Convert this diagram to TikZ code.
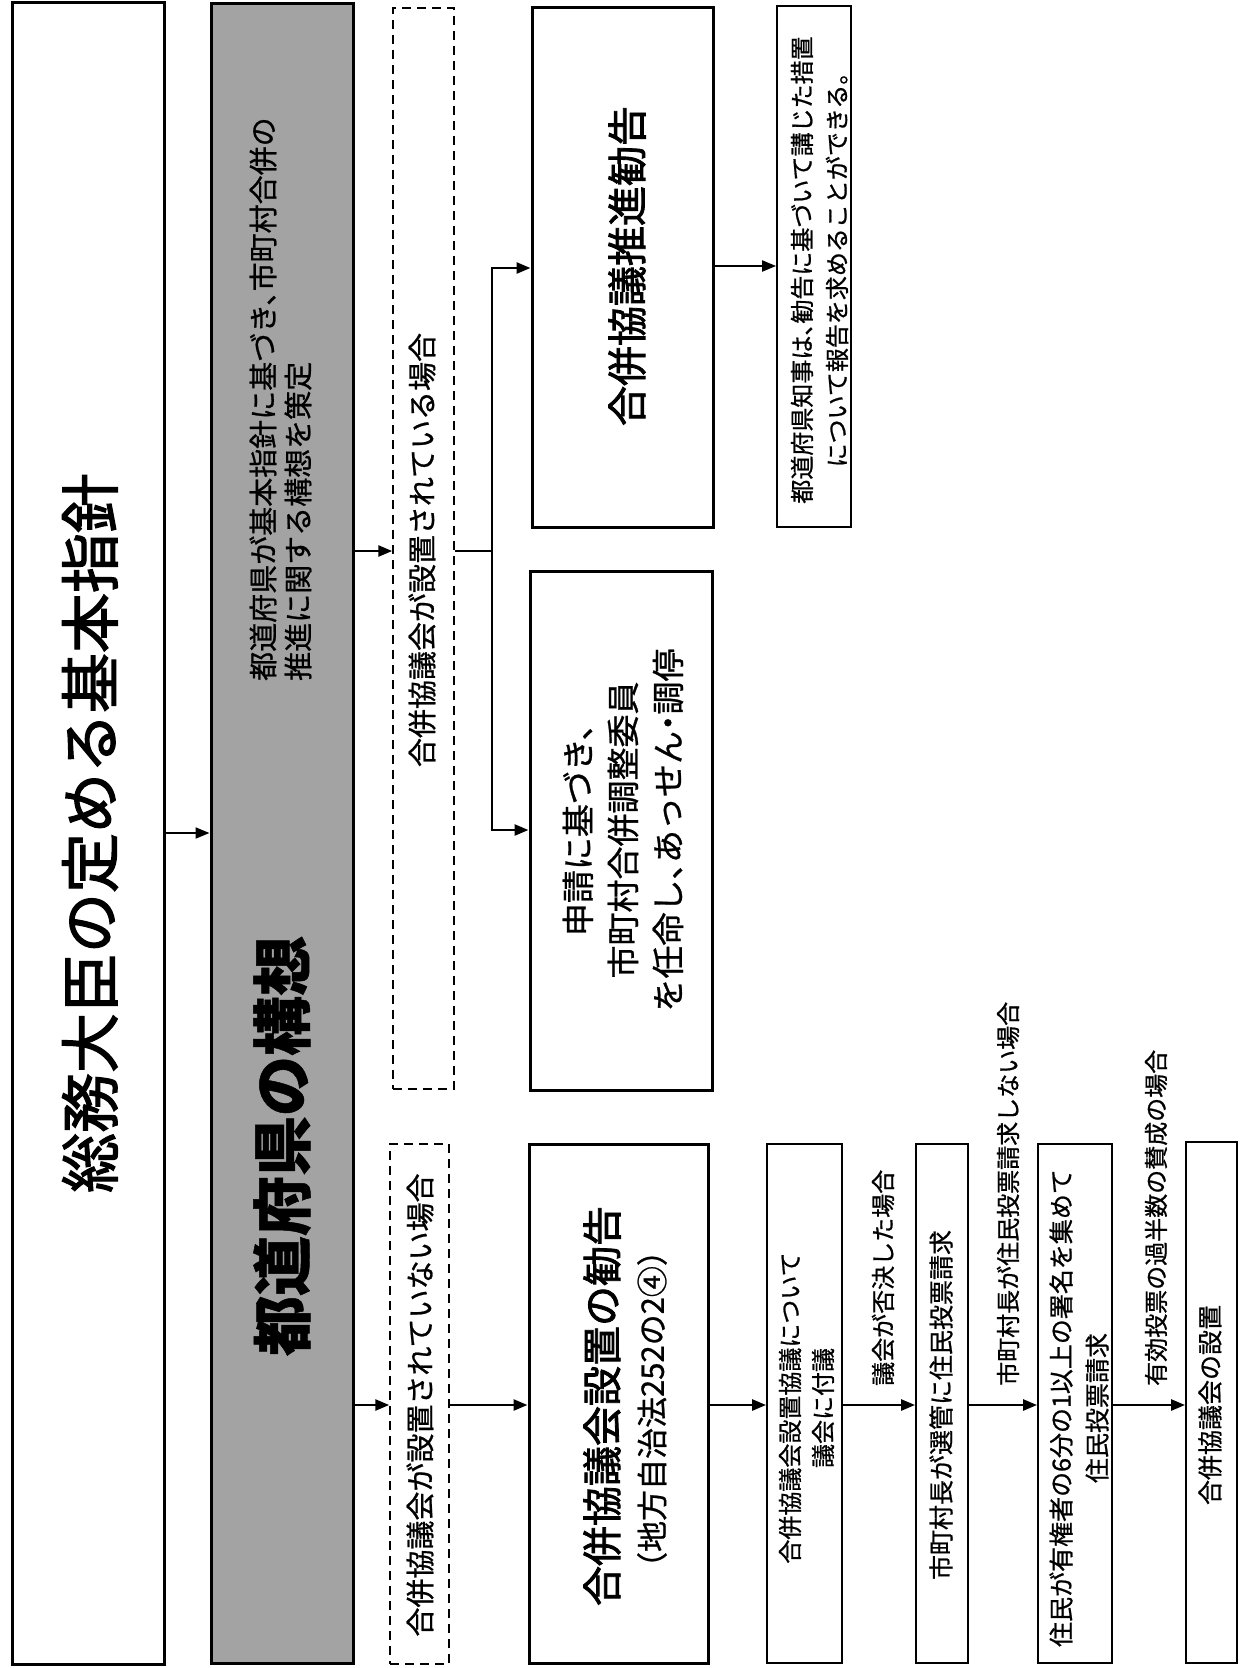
\documentclass[tikz,border=0pt]{standalone}
\usepackage{fontspec}
\setmainfont{Noto Sans CJK JP}[RawFeature=+halt, FakeBold=0.8]
\newfontfamily\titlefont{Noto Sans CJK JP}[FakeBold=2]
\newfontfamily\fullfont{Noto Sans CJK JP}[FakeBold=0.8]
\usetikzlibrary{arrows.meta,fit}
\newcommand\fs[2]{\fontsize{#1pt}{#2pt}\selectfont}
\definecolor{bgray}{gray}{0.64}
\begin{document}
\begin{tikzpicture}[x=1pt,y=-1pt,
  box/.style={draw, line width=3pt, inner sep=0pt},
  thinbox/.style={draw, line width=1.8pt, inner sep=0pt},
  dbox/.style={draw, line width=1.5pt, dash pattern=on 9pt off 6pt, inner sep=0pt},
  txt/.style={rotate=90, inner sep=0pt, align=center},
  arr/.style={line width=2.6pt, -{Triangle[length=14pt,width=11pt]}},
  conn/.style={line width=2.6pt},
]
\fill[white] (0,0) rectangle (1246,1668);
\useasboundingbox (0,0) rectangle (1246,1668);

% boxes
\node[box, fit={(12,2) (164,1664)}] (A) {};
\node[box, fill=bgray, fit={(211,3) (353,1663)}] (B) {};
\node[dbox, fit={(393,8) (454,1089)}] (C) {};
\node[dbox, fit={(390,1144) (449,1664)}] (D) {};
\node[box, fit={(532,7) (713,527)}] (E) {};
\node[box, fit={(530,571) (712,1090)}] (F) {};
\node[thinbox, fit={(777,6) (851,527)}] (G) {};
\node[box, fit={(529,1144) (708,1663)}] (H) {};
\node[thinbox, fit={(767,1144) (842,1663)}] (I) {};
\node[thinbox, fit={(916,1144) (968,1663)}] (J) {};
\node[thinbox, fit={(1038,1144) (1112,1663)}] (K) {};
\node[thinbox, fit={(1186,1142) (1237,1663)}] (L) {};

% texts
\node[txt, font=\titlefont\fs{60}{60}] (At) at (90,833) {総務大臣の定める基本指針};
\node[txt, anchor=west, align=left, font=\fs{29}{35}] (Bs) at (280.5,681) {都道府県が基本指針に基づき、市町村合併の\\推進に関する構想を策定};
\node[txt, font=\fs{60}{60}\bfseries] (Bt) at (282,1146) {都道府県の構想};
\node[txt, font=\fs{29}{29}] (Ct) at (422,550) {合併協議会が設置されている場合};
\node[txt, font=\fs{29}{29}] (Dt) at (420,1405) {合併協議会が設置されていない場合};
\node[txt, font=\titlefont\fs{40}{40}] (Et) at (627,266) {合併協議推進勧告};
\node[txt, font=\fs{33}{45}] (Ft) at (623,830) {申請に基づき、\\市町村合併調整委員\\を任命し、あっせん・調停};
\node[txt, font=\fs{24}{35}] (Gt) at (819.5,270) {都道府県知事は、勧告に基づいて講じた措置\\について報告を求めることができる。};
\node[txt, font=\titlefont\fs{40}{40}] (Ht1) at (602,1406) {合併協議会設置の勧告};
\node[txt, font=\fullfont\fs{31}{31}] (Ht2) at (652,1409) {（地方自治法252の2④）};
\node[txt, font=\fs{24}{33}] (It) at (806.5,1408) {合併協議会設置協議について\\議会に付議};
\node[txt, font=\fs{25}{25}] (Jt) at (941,1405) {市町村長が選管に住民投票請求};
\node[txt, font=\fs{25}{36}] (Kt) at (1079,1408) {住民が有権者の6分の1以上の署名を集めて\\住民投票請求};
\node[txt, font=\fs{25}{25}] (Lt) at (1210,1405) {合併協議会の設置};

% condition labels
\node[txt, anchor=west, font=\fs{24}{24}] (l1) at (883,1386) {議会が否決した場合};
\node[txt, anchor=west, font=\fs{24}{24}] (l2) at (1008,1386) {市町村長が住民投票請求しない場合};
\node[txt, anchor=west, font=\fs{24}{24}] (l3) at (1156,1386) {有効投票の過半数の賛成の場合};

% level coordinates
\coordinate (yAB) at (0,833);
\coordinate (yBC) at (0,551);
\coordinate (yRow) at (0,1405);
\coordinate (yE) at (0,268);
\coordinate (yF) at (0,830);
\coordinate (yEG) at (0,266);
\coordinate (J1) at (492,551);

% connectors
\draw[arr, line width=2pt] (A.east |- yAB) -- (B.west |- yAB);
\draw[arr] (B.east |- yBC) -- (C.west |- yBC);
\draw[arr] (B.east |- yRow) -- (D.west |- yRow);
\draw[conn] (C.east |- yBC) -- (J1);
\draw[arr] (J1) |- (E.west |- yE);
\draw[arr] (J1) |- (F.west |- yF);
\draw[arr, line width=2pt] (E.east |- yEG) -- (G.west |- yEG);
\draw[arr] (D.east |- yRow) -- (H.west |- yRow);
\draw[arr] (H.east |- yRow) -- (I.west |- yRow);
\draw[arr] (I.east |- yRow) -- (J.west |- yRow);
\draw[arr] (J.east |- yRow) -- (K.west |- yRow);
\draw[arr] (K.east |- yRow) -- (L.west |- yRow);
\end{tikzpicture}
\end{document}
